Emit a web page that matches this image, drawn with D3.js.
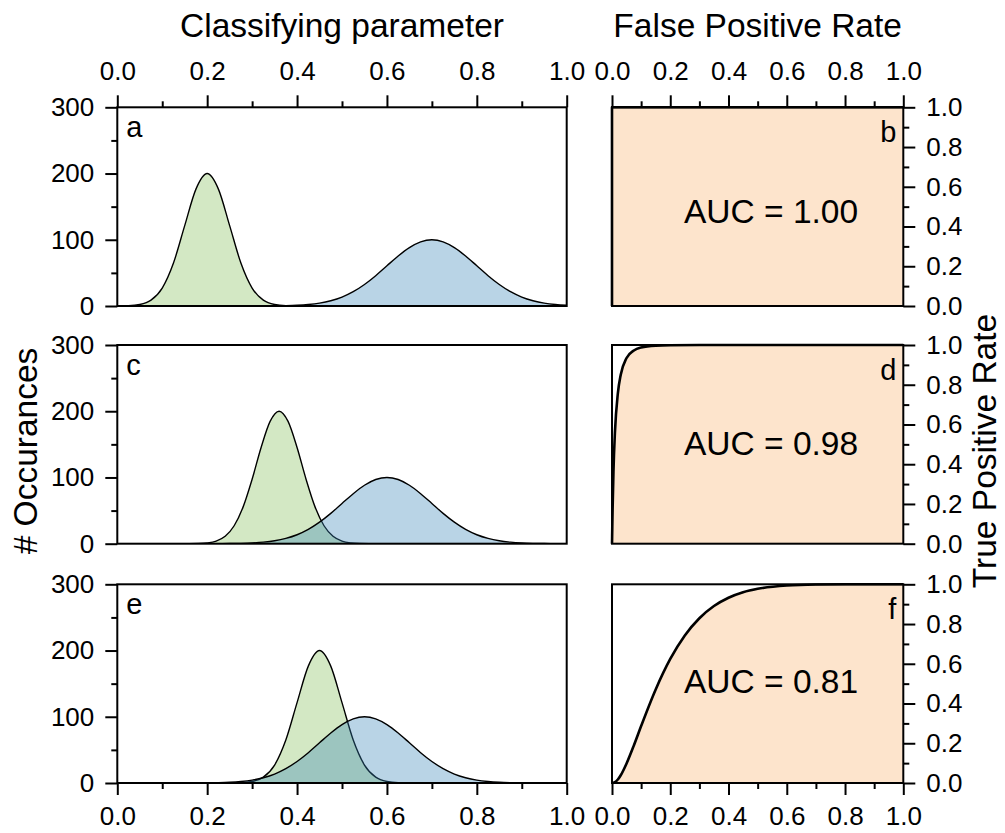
<!DOCTYPE html>
<html>
<head>
<meta charset="utf-8">
<script src="https://cdn.jsdelivr.net/npm/d3@7"></script>
<style>
  body { margin: 0; background: #fff; }
  svg { font-family: "Liberation Sans", Arial, sans-serif; }
</style>
</head>
<body>
<svg id="chart" width="1005" height="833"></svg>
<script>
// ---- data ----
// classifying parameter sample positions (shared by most curves)
let paramX = [0.000,0.025,0.050,0.075,0.100,0.125,0.150,0.175,0.200,0.225,0.250,0.275,0.300,0.325,0.350,0.375,0.400,0.425,0.450,0.475,0.500,0.525,0.550,0.575,0.600,0.625,0.650,0.675,0.700,0.725,0.750,0.775,0.800,0.825,0.850,0.875,0.900,0.925,0.950,0.975,1.000];

// panel a
let greenA = [0.1,0.4,2.2,8.8,27.1,64.9,121.3,176.5,200,176.5,121.3,64.9,27.1,8.8,2.2,0.4,0.1,0,0,0,0,0,0,0,0,0,0,0,0,0,0,0,0,0,0,0,0,0,0,0,0];
let blueA = [0,0,0,0,0,0,0,0,0,0,0,0,0,0.1,0.2,0.5,1.1,2.3,4.4,8.0,13.5,21.6,32.5,45.8,60.7,75.5,88.2,96.9,100,96.9,88.2,75.5,60.7,45.8,32.5,21.6,13.5,8.0,4.4,2.3,1.1];

// panel c (green peak sits at 0.36, sampled on its own grid)
let greenCX = [0.00,0.16,0.18,0.20,0.22,0.24,0.26,0.28,0.30,0.32,0.34,0.36,0.38,0.40,0.42,0.44,0.46,0.48,0.50,0.52,0.54,0.56,1.00];
let greenC = [0,0.1,0.3,1.2,4.0,11.2,27.1,55.6,97.4,145.2,184.6,200,184.6,145.2,97.4,55.6,27.1,11.2,4.0,1.2,0.3,0.1,0];
let blueC = [0,0,0,0,0,0,0,0,0,0.1,0.2,0.5,1.1,2.3,4.4,8.0,13.5,21.6,32.5,45.8,60.7,75.5,88.2,96.9,100,96.9,88.2,75.5,60.7,45.8,32.5,21.6,13.5,8.0,4.4,2.3,1.1,0.5,0.2,0.1,0.0];

// panel e
let greenE = [0,0,0,0,0,0,0,0,0,0,0.1,0.4,2.2,8.8,27.1,64.9,121.3,176.5,200,176.5,121.3,64.9,27.1,8.8,2.2,0.4,0.1,0,0,0,0,0,0,0,0,0,0,0,0,0,0];
let blueE = [0,0,0,0,0,0,0,0.1,0.2,0.5,1.1,2.3,4.4,8.0,13.5,21.6,32.5,45.8,60.7,75.5,88.2,96.9,100,96.9,88.2,75.5,60.7,45.8,32.5,21.6,13.5,8.0,4.4,2.3,1.1,0.5,0.2,0.1,0,0,0];

// ROC curves: false positive rate -> true positive rate
let fprB = [0, 0, 1];
let tprB = [0, 1, 1];
let fprD = [0,0.0001,0.0005,0.001,0.002,0.005,0.01,0.02,0.03,0.05,0.075,0.1,0.15,0.2,0.3,0.4,0.6,0.8,1.0];
let tprD = [0,0.0042,0.0375,0.0838,0.1696,0.3624,0.5588,0.7555,0.8504,0.9345,0.9726,0.9874,0.9968,0.9991,0.9999,1.0,1.0,1.0,1.0];
let fprF = [0,0.005,0.01,0.02,0.03,0.05,0.075,0.1,0.15,0.2,0.25,0.3,0.35,0.4,0.45,0.5,0.6,0.7,0.8,0.9,1.0];
let tprF = [0,0.0008,0.004,0.0175,0.039,0.0985,0.189,0.2867,0.471,0.6243,0.7425,0.8292,0.8905,0.9323,0.9598,0.9772,0.9939,0.9989,0.9999,1.0,1.0];

let aucValues = ["1.00", "0.98", "0.81"];
let leftLetters = ["a", "c", "e"];
let rightLetters = ["b", "d", "f"];

let countTicks = [0, 100, 200, 300];
let countMinor = [50, 150, 250];
let unitTicks = [0, 0.2, 0.4, 0.6, 0.8, 1.0];
let unitMinor = [0.1, 0.3, 0.5, 0.7, 0.9];

// ---- layout ----
let leftX0 = 117.3, leftX1 = 566.7;
let rightX0 = 612, rightX1 = 903.3;
let rowTop = [107.3, 345, 584.3];
let rowH = 198.7;
let aucLabelY = [223, 455, 693];
let tickFont = 26;
let titleFont = 33.5;

let greenFill = "rgb(129,189,86)";
let blueFill = "rgb(55,132,184)";
let rocFill = "#fde4cc";

let svg = d3.select("#chart");

let xParam = d3.scaleLinear().domain([0, 1]).range([leftX0, leftX1]);
let xFpr = d3.scaleLinear().domain([0, 1]).range([rightX0, rightX1]);

let panels = [
  { green: d3.zip(paramX, greenA), blue: d3.zip(paramX, blueA), roc: d3.zip(fprB, tprB), rocCurve: d3.curveLinear },
  { green: d3.zip(greenCX, greenC), blue: d3.zip(paramX, blueC), roc: d3.zip(fprD, tprD), rocCurve: d3.curveMonotoneX },
  { green: d3.zip(paramX, greenE), blue: d3.zip(paramX, blueE), roc: d3.zip(fprF, tprF), rocCurve: d3.curveMonotoneX }
];

let styleAxis = (g) => {
  g.attr("font-size", tickFont).attr("font-family", null);
  g.select(".domain").remove();
  g.selectAll("line").attr("stroke", "#000").attr("stroke-width", 2);
  g.selectAll("text").attr("fill", "#000");
};

let addAxis = (g, axisFn, scale, major, minor, fmt, pad) => {
  g.append("g")
    .call(axisFn(scale).tickValues(major).tickSize(12).tickPadding(pad).tickFormat(fmt))
    .call(styleAxis);
  g.append("g")
    .call(axisFn(scale).tickValues(minor).tickSize(6).tickFormat(""))
    .call(styleAxis);
};

let fmtUnit = d3.format(".1f");
let fmtCount = d3.format("d");

panels.forEach((p, i) => {
  let top = rowTop[i];
  let bottom = top + rowH;
  let yCount = d3.scaleLinear().domain([0, 300]).range([bottom, top]);
  let yTpr = d3.scaleLinear().domain([0, 1]).range([bottom, top]);

  // left: distributions of the classifying parameter
  let clipId = "clipL" + i;
  svg.append("clipPath").attr("id", clipId)
    .append("rect")
    .attr("x", leftX0).attr("y", top)
    .attr("width", leftX1 - leftX0).attr("height", rowH);

  let area = d3.area()
    .x((d) => xParam(d[0]))
    .y0(bottom)
    .y1((d) => yCount(d[1]))
    .curve(d3.curveMonotoneX);

  let left = svg.append("g").attr("clip-path", "url(#" + clipId + ")");
  left.append("path")
    .attr("d", area(p.green))
    .attr("fill", greenFill).attr("fill-opacity", 0.35)
    .attr("stroke", "#000").attr("stroke-width", 1.4);
  left.append("path")
    .attr("d", area(p.blue))
    .attr("fill", blueFill).attr("fill-opacity", 0.35)
    .attr("stroke", "#000").attr("stroke-width", 1.4);

  svg.append("rect")
    .attr("x", leftX0).attr("y", top)
    .attr("width", leftX1 - leftX0).attr("height", rowH)
    .attr("fill", "none").attr("stroke", "#000").attr("stroke-width", 2);

  let axL = svg.append("g").attr("transform", "translate(" + leftX0 + ",0)");
  addAxis(axL, d3.axisLeft, yCount, countTicks, countMinor, fmtCount, 11);

  svg.append("text")
    .attr("x", leftX0 + 9).attr("y", top + 30)
    .attr("font-size", 29)
    .text(leftLetters[i]);

  // right: ROC curve
  let rocArea = d3.area()
    .x((d) => xFpr(d[0]))
    .y0(bottom)
    .y1((d) => yTpr(d[1]))
    .curve(p.rocCurve);
  let rocLine = d3.line()
    .x((d) => xFpr(d[0]))
    .y((d) => yTpr(d[1]))
    .curve(p.rocCurve);

  svg.append("path")
    .attr("d", rocArea(p.roc))
    .attr("fill", rocFill);

  svg.append("rect")
    .attr("x", rightX0).attr("y", top)
    .attr("width", rightX1 - rightX0).attr("height", rowH)
    .attr("fill", "none").attr("stroke", "#000").attr("stroke-width", 2);

  svg.append("path")
    .attr("d", rocLine(p.roc))
    .attr("fill", "none")
    .attr("stroke", "#000").attr("stroke-width", 2.6)
    .attr("stroke-linejoin", "round");

  let axR = svg.append("g").attr("transform", "translate(" + rightX1 + ",0)");
  addAxis(axR, d3.axisRight, yTpr, unitTicks, unitMinor, fmtUnit, 11);

  svg.append("text")
    .attr("x", rightX1 - 7).attr("y", top + 35)
    .attr("text-anchor", "end")
    .attr("font-size", 29)
    .text(rightLetters[i]);

  svg.append("text")
    .attr("x", 684).attr("y", aucLabelY[i])
    .attr("font-size", 33.5)
    .text("AUC = " + aucValues[i]);
});

// shared x axes: on top of the first row, below the last row
let topY = rowTop[0];
let bottomY = rowTop[2] + rowH;

addAxis(svg.append("g").attr("transform", "translate(0," + topY + ")"),
  d3.axisTop, xParam, unitTicks, unitMinor, fmtUnit, 15);
addAxis(svg.append("g").attr("transform", "translate(0," + topY + ")"),
  d3.axisTop, xFpr, unitTicks, unitMinor, fmtUnit, 15);
addAxis(svg.append("g").attr("transform", "translate(0," + bottomY + ")"),
  d3.axisBottom, xParam, unitTicks, unitMinor, fmtUnit, 12);
addAxis(svg.append("g").attr("transform", "translate(0," + bottomY + ")"),
  d3.axisBottom, xFpr, unitTicks, unitMinor, fmtUnit, 12);

// axis titles
svg.append("text")
  .attr("x", (leftX0 + leftX1) / 2).attr("y", 37)
  .attr("text-anchor", "middle").attr("font-size", titleFont)
  .text("Classifying parameter");
svg.append("text")
  .attr("x", (rightX0 + rightX1) / 2).attr("y", 37)
  .attr("text-anchor", "middle").attr("font-size", titleFont)
  .text("False Positive Rate");
svg.append("text")
  .attr("transform", "translate(37,451) rotate(-90)")
  .attr("text-anchor", "middle").attr("font-size", titleFont)
  .text("# Occurances");
svg.append("text")
  .attr("transform", "translate(996,451) rotate(-90)")
  .attr("text-anchor", "middle").attr("font-size", titleFont)
  .text("True Positive Rate");
</script>
</body>
</html>
